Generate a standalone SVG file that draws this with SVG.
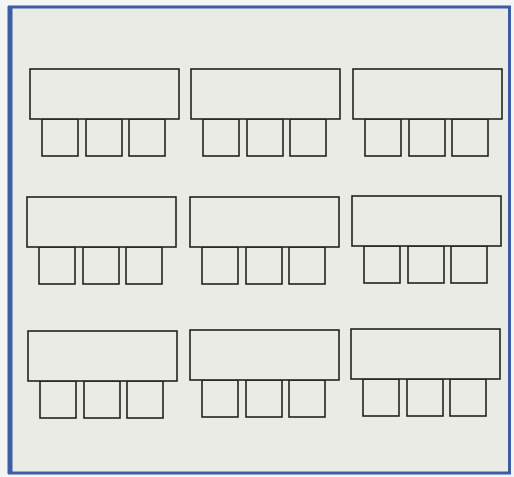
<svg xmlns="http://www.w3.org/2000/svg" width="514" height="477" viewBox="0 0 514 477">
<style>
.t{fill:#ebebe6;stroke:#222;stroke-width:1.6}
.c{fill:#ebebe6;stroke:#222;stroke-width:1.6}
</style>
<defs>
<g id="set">
<rect class="c" x="12" y="50" width="36" height="37"/>
<rect class="c" x="56" y="50" width="36" height="37"/>
<rect class="c" x="99" y="50" width="36" height="37"/>
<rect class="t" x="0" y="0" width="149" height="50"/>
</g>
</defs>
<rect x="0" y="0" width="514" height="477" fill="#f3f4f4"/>
<rect x="9.5" y="7" width="500" height="466" fill="#ebebe6" stroke="#3c5ca6" stroke-width="3"/>
<line x1="10" y1="6" x2="10" y2="474" stroke="#3c5ca6" stroke-width="5"/>
<g id="connectors"></g>
<g id="table-r1c1" transform="translate(30,69)"><use href="#set"/></g>
<g id="table-r1c2" transform="translate(191,69)"><use href="#set"/></g>
<g id="table-r1c3" transform="translate(353,69)"><use href="#set"/></g>
<g id="table-r2c1" transform="translate(27,197)"><use href="#set"/></g>
<g id="table-r2c2" transform="translate(190,197)"><use href="#set"/></g>
<g id="table-r2c3" transform="translate(352,196)"><use href="#set"/></g>
<g id="table-r3c1" transform="translate(28,331)"><use href="#set"/></g>
<g id="table-r3c2" transform="translate(190,330)"><use href="#set"/></g>
<g id="table-r3c3" transform="translate(351,329)"><use href="#set"/></g>
</svg>
